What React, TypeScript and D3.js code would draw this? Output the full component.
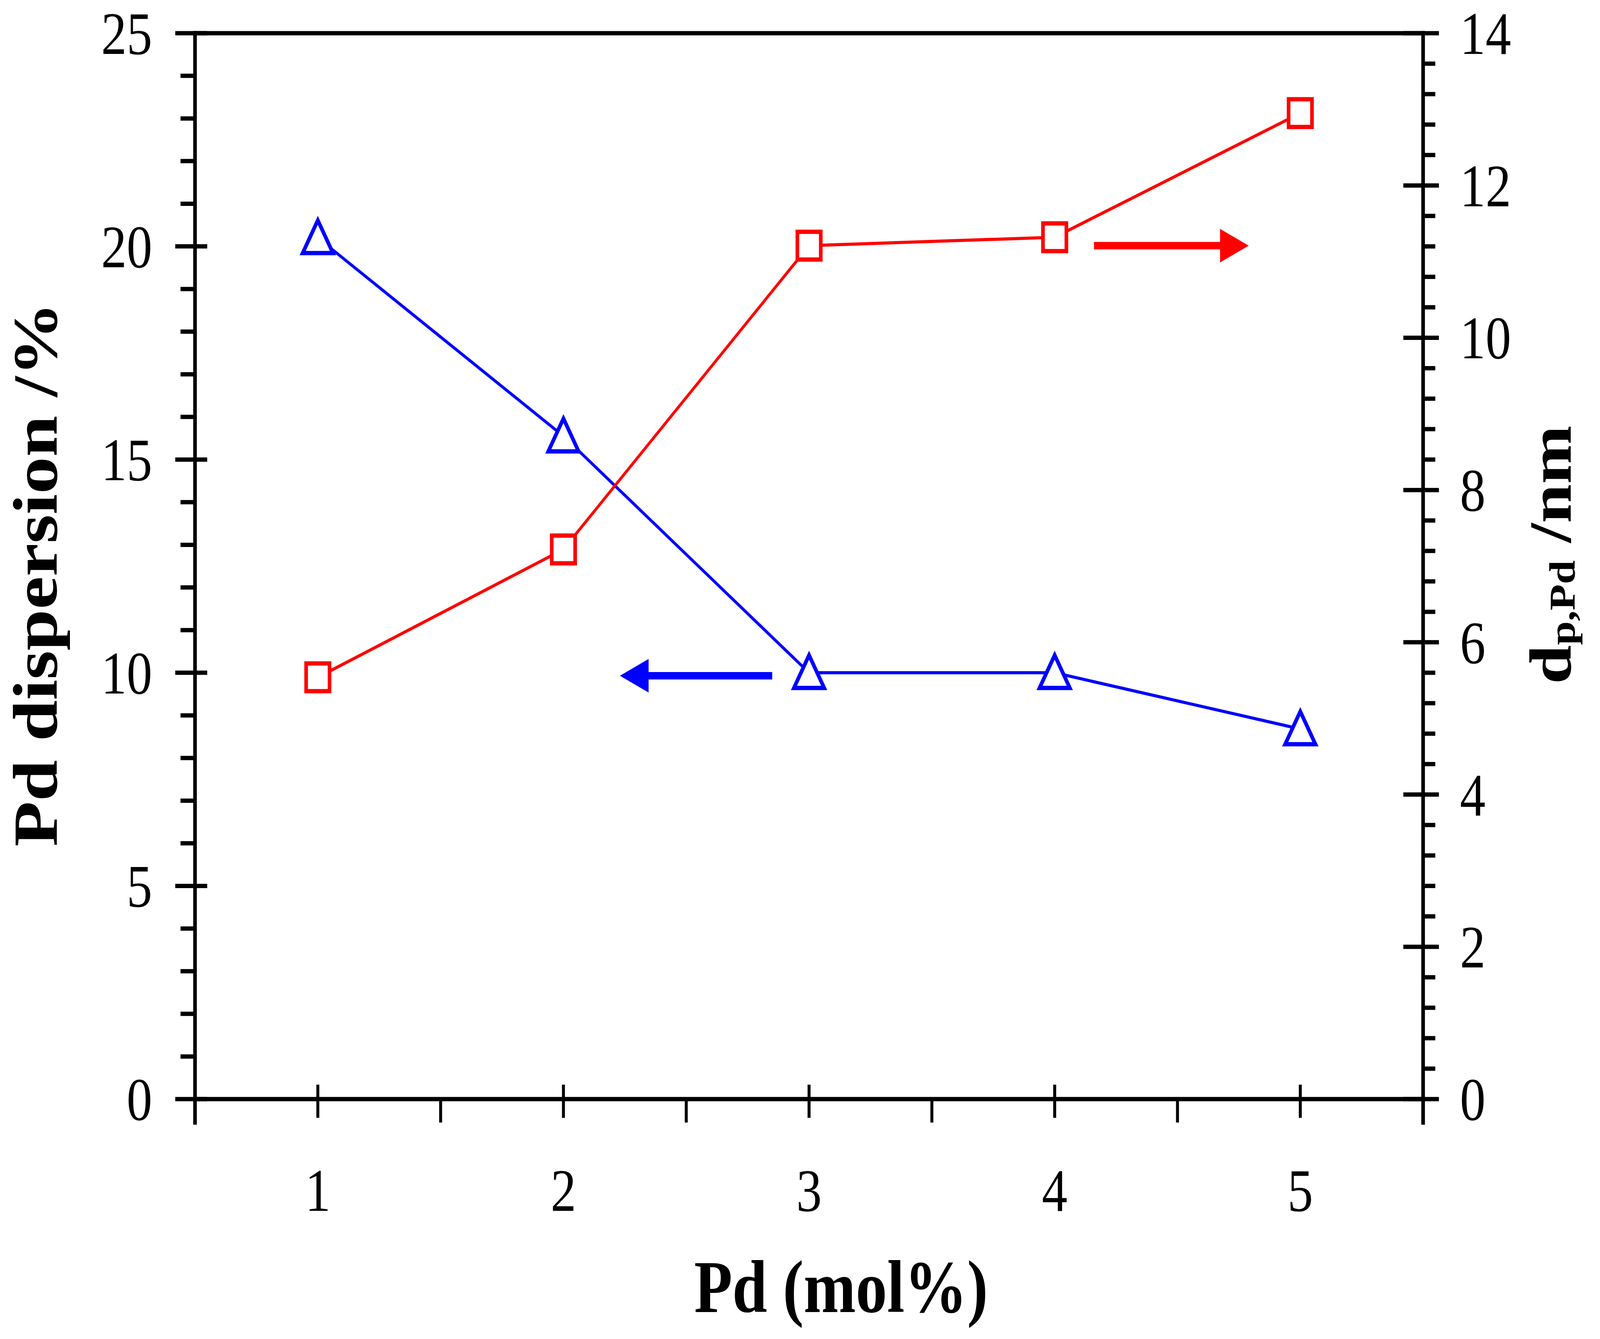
import * as d3 from "d3";

// Pd loading (mol%) on the x axis
const pdLoading = [1, 2, 3, 4, 5];
// left axis: Pd dispersion (%), blue triangles
const dispersion = [20.2, 15.55, 10.0, 10.0, 8.68];
// right axis: Pd particle size d_p,Pd (nm), red squares
const particleSize = [5.54, 7.22, 11.21, 11.32, 12.95];

const xTickLabels = ["1", "2", "3", "4", "5"];
const leftTicks = [0, 5, 10, 15, 20, 25];
const rightTicks = [0, 2, 4, 6, 8, 10, 12, 14];

// arrows telling which axis each series belongs to (data units)
const dispersionArrow = { from: 2.85, to: 2.23, y: 9.93 };
const sizeArrow = { from: 4.16, to: 4.79, y: 11.21 };

const W = 4857;
const H = 3427;
const left = 592;
const right = 4320;
const top = 85;
const bottom = 2813;

const font = "'Liberation Serif', 'Times New Roman', serif";
const BLUE = "#0000FF";
const RED = "#FF0000";

export default function App() {
  const x = d3.scaleLinear().domain([0.5, 5.5]).range([left, right]);
  const yL = d3.scaleLinear().domain([0, 25]).range([bottom, top]);
  const yR = d3.scaleLinear().domain([0, 14]).range([bottom, top]);

  const blueLine = d3
    .line<number>()
    .x((_, i) => x(pdLoading[i]))
    .y((d) => yL(d));
  const redLine = d3
    .line<number>()
    .x((_, i) => x(pdLoading[i]))
    .y((d) => yR(d));

  const leftMinor = d3.range(0, 26).filter((v) => v % 5 !== 0);
  const rightMinor = d3
    .range(0, 36)
    .filter((i) => i % 5 !== 0)
    .map((i) => i * 0.4);
  const xMinor = [1.5, 2.5, 3.5, 4.5];

  const square = d3.symbol(d3.symbolSquare, 71 * 71)();

  const triangle = (cx: number, cy: number) => {
    const w = 92;
    const h = 84;
    return `M${cx},${cy - h / 2 - 3}L${cx + w / 2},${cy + h / 2 - 3}L${cx - w / 2},${cy + h / 2 - 3}Z`;
  };

  const arrow = (x0: number, x1: number, y: number) => {
    const dir = Math.sign(x1 - x0);
    const hl = 87;
    const hh = 43;
    const sw = 9.5;
    const b = x1 - dir * hl;
    return `M${x0},${y - sw}L${b},${y - sw}L${b},${y - hh}L${x1},${y}L${b},${y + hh}L${b},${y + sw}L${x0},${y + sw}Z`;
  };

  const axisW = 11;

  return (
    <svg
      viewBox={`0 0 ${W} ${H}`}
      preserveAspectRatio="none"
      style={{
        position: "fixed",
        left: 0,
        top: 0,
        width: "100vw",
        height: "100vh",
        display: "block",
        background: "#fff",
      }}
    >
      <rect width={W} height={H} fill="#fff" />

      {/* frame */}
      <g stroke="#000" strokeWidth={axisW} strokeLinecap="square" fill="none">
        <line x1={left} y1={top} x2={right} y2={top} />
        <line x1={left} y1={bottom} x2={right} y2={bottom} />
        <line x1={left} y1={top} x2={left} y2={bottom + 60} />
        <line x1={right} y1={top} x2={right} y2={bottom + 60} />
      </g>

      {/* ticks */}
      <g stroke="#000" strokeWidth={axisW}>
        {leftMinor.map((v) => (
          <line key={"lm" + v} x1={left - 44} x2={left} y1={yL(v)} y2={yL(v)} />
        ))}
        {leftTicks.map((v) => (
          <line key={"lM" + v} x1={left - 60} x2={left + 37} y1={yL(v)} y2={yL(v)} />
        ))}
        {rightMinor.map((v) => (
          <line key={"rm" + v} x1={right} x2={right + 37} y1={yR(v)} y2={yR(v)} />
        ))}
        {rightTicks.map((v) => (
          <line key={"rM" + v} x1={right - 60} x2={right + 48} y1={yR(v)} y2={yR(v)} />
        ))}
      </g>
      <g stroke="#000" strokeWidth={9}>
        {pdLoading.map((v) => (
          <line key={"xM" + v} x1={x(v)} x2={x(v)} y1={bottom - 37} y2={bottom + 48} />
        ))}
        {xMinor.map((v) => (
          <line key={"xm" + v} x1={x(v)} x2={x(v)} y1={bottom} y2={bottom + 60} />
        ))}
      </g>

      {/* tick labels */}
      <g fontFamily={font} fontSize={155} fill="#000">
        {leftTicks.map((v) => (
          <text key={"ll" + v} x={462} y={yL(v) + 53} textAnchor="end">
            {v}
          </text>
        ))}
        {rightTicks.map((v) => (
          <text key={"rl" + v} x={4432} y={yR(v) + 53} textAnchor="start">
            {v}
          </text>
        ))}
        {pdLoading.map((v, i) => (
          <text key={"xl" + v} x={x(v)} y={3099} textAnchor="middle">
            {xTickLabels[i]}
          </text>
        ))}
      </g>

      {/* axis titles */}
      <g fontFamily={font} fontWeight="bold" fill="#000">
        <text x={2553} y={3358} textAnchor="middle" fontSize={190}>
          Pd (mol%)
        </text>
        <text transform="translate(172,1470) rotate(-90)" textAnchor="middle" fontSize={190}>
          Pd dispersion /%
        </text>
        <text transform="translate(4768,1420) rotate(-90)" textAnchor="middle" fontSize={180}>
          d
          <tspan fontSize={110} dy={12}>
            p,Pd
          </tspan>
          <tspan dy={-12}> /nm</tspan>
        </text>
      </g>

      {/* series lines */}
      <path d={blueLine(dispersion) || undefined} fill="none" stroke={BLUE} strokeWidth={8} />
      <path d={redLine(particleSize) || undefined} fill="none" stroke={RED} strokeWidth={8} />

      {/* markers */}
      {dispersion.map((v, i) => (
        <path
          key={"tri" + i}
          d={triangle(x(pdLoading[i]), yL(v))}
          fill="#fff"
          stroke={BLUE}
          strokeWidth={11}
          strokeLinejoin="miter"
        />
      ))}
      {particleSize.map((v, i) => (
        <path
          key={"sq" + i}
          d={square || undefined}
          transform={`translate(${x(pdLoading[i])},${yR(v)})`}
          fill="#fff"
          stroke={RED}
          strokeWidth={11}
        />
      ))}

      {/* axis arrows */}
      <path
        d={arrow(x(dispersionArrow.from), x(dispersionArrow.to), yL(dispersionArrow.y))}
        fill={BLUE}
      />
      <path d={arrow(x(sizeArrow.from), x(sizeArrow.to), yR(sizeArrow.y))} fill={RED} />
    </svg>
  );
}
